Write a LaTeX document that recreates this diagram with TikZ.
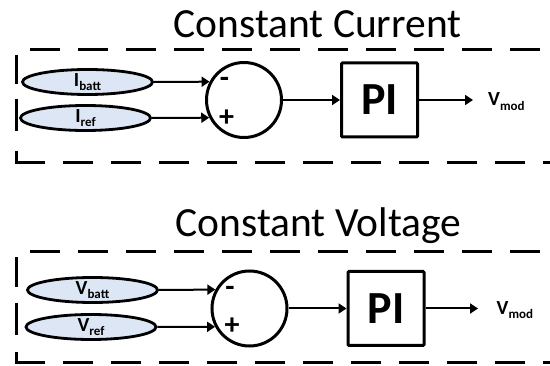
\documentclass[tikz,border=0pt]{standalone}
\usepackage{fontspec}
\setmainfont{Carlito}
\usetikzlibrary{arrows.meta,shapes.geometric}
\definecolor{ellfill}{HTML}{DDE6F4}
\tikzset{
 lbl/.style={ellipse, draw, line width=2.8pt, fill=ellfill, minimum width=130pt, minimum height=25pt, inner sep=0pt, font=\fontsize{20}{20}\selectfont\bfseries},
 sumc/.style={circle, draw, line width=3pt, minimum size=75pt, inner sep=0pt},
 pibox/.style={draw, line width=3pt, minimum width=76pt, minimum height=74pt, inner sep=0pt, rounded corners=1pt, font=\fontsize{46}{46}\selectfont\bfseries},
 ttl/.style={font=\fontsize{41.5}{41.5}\selectfont, inner sep=0pt, anchor=base},
 sgn/.style={font=\fontsize{30}{30}\selectfont\bfseries, inner sep=0pt},
 outl/.style={font=\fontsize{20}{20}\selectfont\bfseries, inner sep=0pt, anchor=base west},
 conn/.style={line width=2pt, -{Triangle[length=8pt,width=10pt]}},
 dashl/.style={line width=3pt, dash pattern=on 30pt off 18pt},
 sol/.style={line width=3pt},
}
\newcommand{\sbs}[1]{\raisebox{-0.22em}{\fontsize{13}{13}\selectfont #1}}
\begin{document}
\begin{tikzpicture}[x=1pt,y=-1pt]
\useasboundingbox (0,0) rectangle (550,366);
\clip (0,0) rectangle (550,366);
% ---------- Constant Current ----------
\node[ttl] (t1) at (317.5,38) {Constant Current};
\draw[dashl] (30,50) -- (570,50);
\draw[dashl] (63,163) -- (570,163);
\draw[sol] (16,55) -- (16,84);
\draw[sol] (16,99) -- (16,131);
\draw[sol] (16,151) -- (16,163) -- (45,163);
\node[lbl] (ibatt) at (87.5,82) {I\sbs{batt}};
\node[lbl] (iref) at (85.5,118) {I\sbs{ref}};
\node[sumc] (sum1) at (244,100) {};
\node[sgn] (m1) at (224.5,82) {-};
\node[sgn] (p1) at (226.5,118) {+};
\node[pibox] (pi1) at (379.5,100) {PI};
\coordinate (o1) at (473,100);
\node[outl] (vm1) at (488,106) {V\sbs{mod}};
\draw[conn] (ibatt.east) -- (sum1.152.5);
\draw[conn] (iref.east) -- (sum1.207.5);
\draw[conn] (sum1.east) -- (pi1.west);
\draw[conn] (pi1.east) -- (o1);
% ---------- Constant Voltage ----------
\node[ttl] (t2) at (318.5,237) {Constant Voltage};
\draw[dashl] (30,252) -- (570,252);
\draw[dashl] (63,363) -- (570,363);
\draw[sol] (16,257) -- (16,287);
\draw[sol] (16,303) -- (16,335);
\draw[sol] (16,352) -- (16,363) -- (45,363);
\node[lbl] (vbatt) at (92.5,290) {V\sbs{batt}};
\node[lbl] (vref) at (91,327) {V\sbs{ref}};
\node[sumc] (sum2) at (249.5,308.5) {};
\node[sgn] (m2) at (230,291) {-};
\node[sgn] (p2) at (232,326) {+};
\node[pibox] (pi2) at (386,308.5) {PI};
\coordinate (o2) at (478,308.5);
\node[outl] (vm2) at (496.5,314.5) {V\sbs{mod}};
\draw[conn] (vbatt.east) -- (sum2.151.7);
\draw[conn] (vref.east) -- (sum2.208.3);
\draw[conn] (sum2.east) -- (pi2.west);
\draw[conn] (pi2.east) -- (o2);
\end{tikzpicture}
\end{document}
